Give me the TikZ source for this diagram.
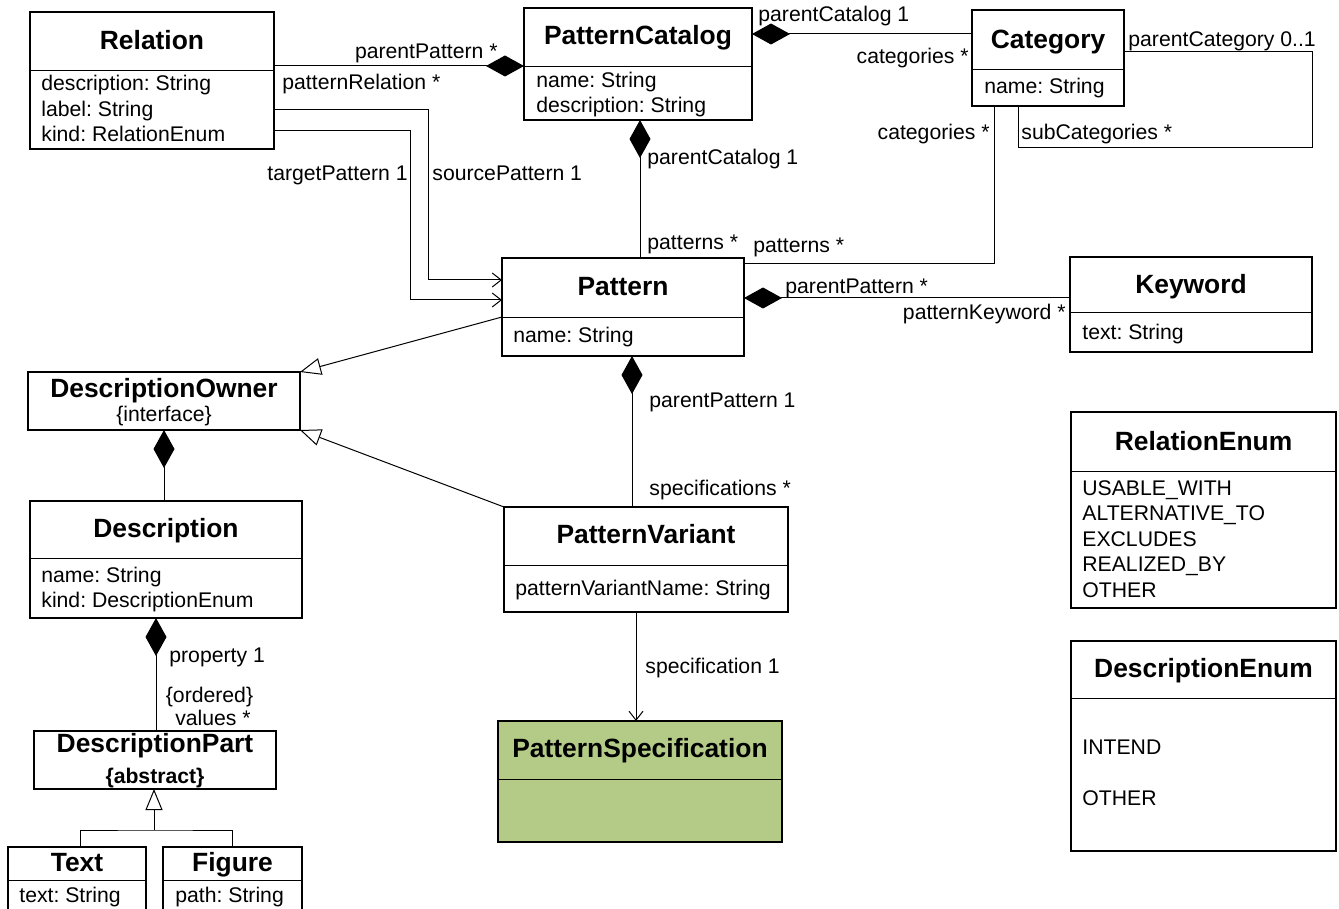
\documentclass[tikz,border=0pt]{standalone}
\usepackage{fontspec}
\setmainfont{Liberation Sans}
\usepackage{xcolor}
\usetikzlibrary{arrows.meta, fit}
\frenchspacing

\definecolor{specgreen}{RGB}{180,203,135}
\newcommand{\attrfont}{\fontsize{10.6}{12.7}\selectfont}
\newcommand{\titlefont}{\fontsize{13.2}{15.8}\selectfont\bfseries}

\tikzset{
  cls/.style={draw, line width=0.6pt, inner sep=0pt, outer sep=0pt},
  ttl/.style={font=\titlefont, inner sep=0pt, anchor=base},
  attr/.style={font=\attrfont, inner sep=0pt, anchor=base west},
  lbl/.style={font=\attrfont, inner sep=0pt},
  assoc/.style={line width=0.5pt},
  comp/.style={assoc, {Diamond[length=19pt, width=10.5pt]}-},
  gen/.style={assoc, -{Triangle[open, length=10.5pt, width=8.5pt]}},
  nav/.style={assoc, -{Straight Barb[length=4.5pt, width=7pt]}}
}

\begin{document}
\begin{tikzpicture}[x=0.5pt, y=-0.5pt]
  \useasboundingbox (0,0) rectangle (1339,909);

  % classes
  \node[cls, fit={(30,12) (274,149)}] (rel) {};
  \draw (rel.west |- 0,70) -- (rel.east |- 0,70);
  \node[ttl] (relT) at (rel.north |- 0,50) {Relation};
  \node[attr] (relA) at (41,91) {description: String};
  \node[attr] (relB) at (41,116.5) {label: String};
  \node[attr] (relC) at (41,142) {kind: RelationEnum};

  \node[cls, fit={(524,8) (752,120)}] (pcat) {};
  \draw (pcat.west |- 0,66) -- (pcat.east |- 0,66);
  \node[ttl] (pcatT) at (pcat.north |- 0,45) {PatternCatalog};
  \node[attr] (pcatA) at (536,88) {name: String};
  \node[attr] (pcatB) at (536,113) {description: String};

  \node[cls, fit={(972,10) (1124,106)}] (cat) {};
  \draw (cat.west |- 0,69) -- (cat.east |- 0,69);
  \node[ttl] (catT) at (cat.north |- 0,49) {Category};
  \node[attr] (catA) at (984,94) {name: String};

  \node[cls, fit={(502,258) (744,356)}] (pat) {};
  \draw (pat.west |- 0,317) -- (pat.east |- 0,317);
  \node[ttl] (patT) at (pat.north |- 0,296) {Pattern};
  \node[attr] (patA) at (513,343) {name: String};

  \node[cls, fit={(1070,257) (1312,352)}] (kw) {};
  \draw (kw.west |- 0,312) -- (kw.east |- 0,312);
  \node[ttl] (kwT) at (kw.north |- 0,293) {Keyword};
  \node[attr] (kwA) at (1082,340) {text: String};

  \node[cls, fit={(28,372) (300,430)}] (downer) {};
  \node[ttl] (downerT) at (downer.north |- 0,397) {DescriptionOwner};
  \node[lbl, anchor=base] (downerS) at (downer.north |- 0,422) {\{interface\}};

  \node[cls, fit={(30,501) (302,618)}] (desc) {};
  \draw (desc.west |- 0,558) -- (desc.east |- 0,558);
  \node[ttl] (descT) at (desc.north |- 0,537) {Description};
  \node[attr] (descA) at (41,582) {name: String};
  \node[attr] (descB) at (41,607) {kind: DescriptionEnum};

  \node[cls, fit={(34,731) (276,789)}] (dpart) {};
  \node[ttl] (dpartT) at (dpart.north |- 0,752) {DescriptionPart};
  \node[lbl, anchor=base, font=\attrfont\bfseries] (dpartS) at (dpart.north |- 0,783) {\{abstract\}};

  \node[cls, fit={(8,847) (146,935)}] (txt) {};
  \draw (txt.west |- 0,880) -- (txt.east |- 0,880);
  \node[ttl] (txtT) at (txt.north |- 0,871) {Text};
  \node[attr] (txtA) at (19,902) {text: String};

  \node[cls, fit={(163,847) (302,935)}] (fig) {};
  \draw (fig.west |- 0,880) -- (fig.east |- 0,880);
  \node[ttl] (figT) at (fig.north |- 0,871) {Figure};
  \node[attr] (figA) at (175,902) {path: String};

  \node[cls, fit={(504,507) (788,612)}] (pvar) {};
  \draw (pvar.west |- 0,565) -- (pvar.east |- 0,565);
  \node[ttl] (pvarT) at (pvar.north |- 0,543) {PatternVariant};
  \node[attr] (pvarA) at (515,595) {patternVariantName: String};

  \node[cls, fill=specgreen, fit={(498,721) (782,842)}] (pspec) {};
  \draw (pspec.west |- 0,779) -- (pspec.east |- 0,779);
  \node[ttl] (pspecT) at (pspec.north |- 0,757) {PatternSpecification};

  \node[cls, fit={(1071,412) (1336,608)}] (renum) {};
  \draw (renum.west |- 0,471) -- (renum.east |- 0,471);
  \node[ttl] (renumT) at (renum.north |- 0,450) {RelationEnum};
  \node[attr] (renumA) at (1082,495) {USABLE\_WITH};
  \node[attr] (renumB) at (1082,520.5) {ALTERNATIVE\_TO};
  \node[attr] (renumC) at (1082,546) {EXCLUDES};
  \node[attr] (renumD) at (1082,571) {REALIZED\_BY};
  \node[attr] (renumE) at (1082,597) {OTHER};

  \node[cls, fit={(1071,641) (1336,851)}] (denum) {};
  \draw (denum.west |- 0,698) -- (denum.east |- 0,698);
  \node[ttl] (denumT) at (denum.north |- 0,677) {DescriptionEnum};
  \node[attr] (denumA) at (1082,754) {INTEND};
  \node[attr] (denumB) at (1082,805) {OTHER};

  % connectors
  \draw[comp] (pcat.west |- 0,66) -- (rel.east |- 0,66);
  \node[lbl, anchor=base east] (l1) at (498,59) {parentPattern *};
  \node[lbl, anchor=base west] (l2) at (282,90) {patternRelation *};

  \draw[nav] (rel.east |- 0,110) -| (428,280) -- (pat.west |- 0,280);
  \node[lbl, anchor=base west] (l3) at (432,181) {sourcePattern 1};
  \draw[nav] (rel.east |- 0,131) -| (410,300) -- (pat.west |- 0,300);
  \node[lbl, anchor=base east] (l4) at (408,181) {targetPattern 1};

  \draw[comp] (pcat.south -| 640,0) -- (pat.north -| 640,0);
  \node[lbl, anchor=base west] (l5) at (647,165) {parentCatalog 1};
  \node[lbl, anchor=base west] (l6) at (647,250) {patterns *};

  \draw[comp] (pcat.east |- 0,34) -- (cat.west |- 0,34);
  \node[lbl, anchor=base west] (l7) at (758,22) {parentCatalog 1};
  \node[lbl, anchor=base east] (l8) at (969,64) {categories *};

  \draw[assoc] (cat.south -| 994,0) |- (pat.east |- 0,264);
  \node[lbl, anchor=base east] (l9) at (990,140) {categories *};
  \node[lbl, anchor=base west] (l10) at (753,253) {patterns *};

  \draw[assoc] (cat.east |- 0,52) -| (1312,148) -| (cat.south -| 1018,0);
  \node[lbl, anchor=base west] (l11) at (1128,47) {parentCategory 0..1};
  \node[lbl, anchor=base west] (l12) at (1021,140) {subCategories *};

  \draw[comp] (pat.east |- 0,298) -- (kw.west |- 0,298);
  \node[lbl, anchor=base west] (l13) at (785,293) {parentPattern *};
  \node[lbl, anchor=base east] (l14) at (1066,320) {patternKeyword *};

  \draw[gen] (pat.west |- 0,317) -- (downer.north east);
  \draw[gen] (pvar.north west) -- (downer.south east);

  \draw[comp] (pat.south -| 632,0) -- (pvar.north -| 632,0);
  \node[lbl, anchor=base west] (l15) at (649,408) {parentPattern 1};
  \node[lbl, anchor=base west] (l16) at (649,495) {specifications *};

  \draw[nav] (pvar.south -| 636,0) -- (pspec.north -| 636,0);
  \node[lbl, anchor=base west] (l17) at (645,673) {specification 1};

  \draw[comp] (downer.south -| 164,0) -- (desc.north -| 164,0);

  \draw[comp] (desc.south -| 156,0) -- (dpart.north -| 156,0);
  \node[lbl, anchor=base west] (l18) at (169,662) {property 1};
  \node[lbl, anchor=base] (l19) at (209.5,702) {\{ordered\}};
  \node[lbl, anchor=base] (l20) at (213,725) {values *};

  \coordinate (gj) at (154,830);
  \draw[assoc] (txt.north -| 80,0) |- (gj) -| (fig.north);
  \draw[gen] (gj) -- (dpart.south -| gj);
\end{tikzpicture}
\end{document}
